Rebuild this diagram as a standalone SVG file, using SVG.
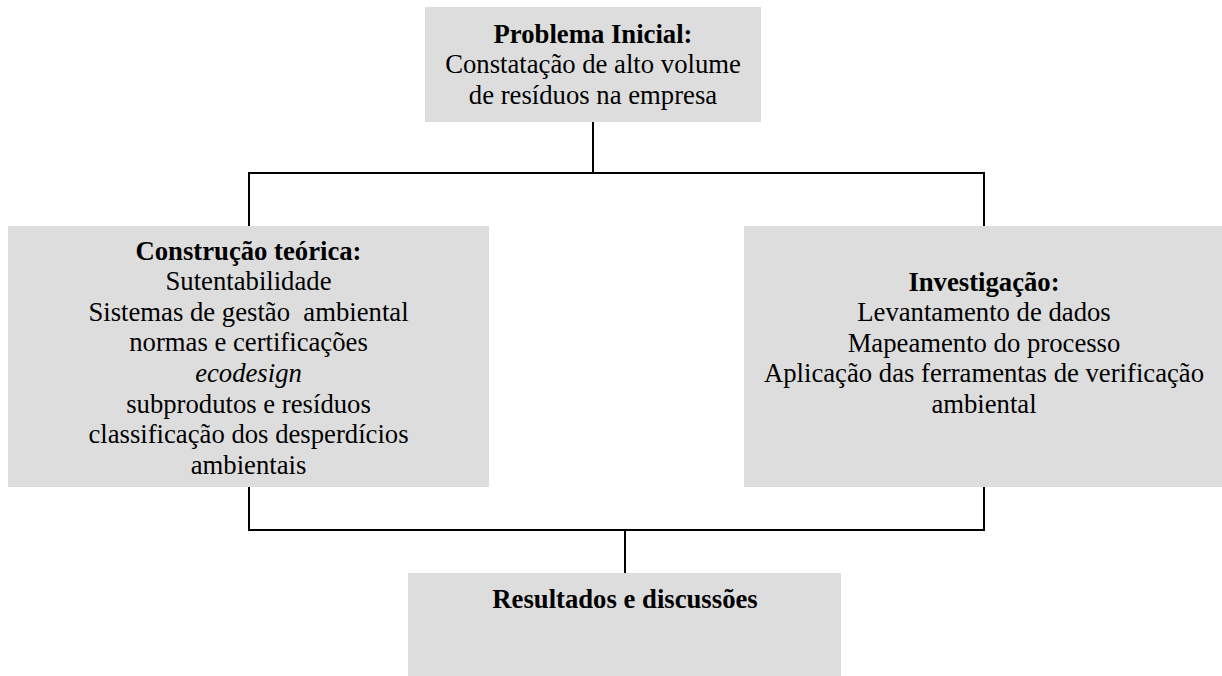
<svg xmlns="http://www.w3.org/2000/svg" width="1222" height="676" viewBox="0 0 1222 676">
  <style>
    .box { fill: #dddddd; stroke: none; }
    .t { font-family: "Liberation Serif", "Times New Roman", serif; font-size: 26.7px; fill: #000; text-anchor: middle; }
    .b { font-weight: bold; }
    .i { font-style: italic; }
    .conn { fill: none; stroke: #000; stroke-width: 2; }
  </style>
  <rect width="1222" height="676" fill="#ffffff"/>
  <g id="connectors">
    <path class="conn" d="M593 122 V173 M249 226 V173 H984 V226"/>
    <path class="conn" d="M249 487 V530 H984 V487 M625 530 V573"/>
  </g>
  <g id="problema">
    <rect class="box" x="425" y="7" width="336" height="115"/>
    <text class="t b" x="593" y="42.5">Problema Inicial:</text>
    <text class="t" x="593" y="73">Constatação de alto volume</text>
    <text class="t" x="593" y="103.5">de resíduos na empresa</text>
  </g>
  <g id="construcao">
    <rect class="box" x="8" y="226" width="481" height="261"/>
    <text class="t b" x="248.5" y="259.5">Construção teórica:</text>
    <text class="t" x="248.5" y="290">Sutentabilidade</text>
    <text class="t" x="248.5" y="320.7" xml:space="preserve">Sistemas de gestão  ambiental</text>
    <text class="t" x="248.5" y="351.3">normas e certificações</text>
    <text class="t i" x="248.5" y="381.9">ecodesign</text>
    <text class="t" x="248.5" y="412.5">subprodutos e resíduos</text>
    <text class="t" x="248.5" y="443.1">classificação dos desperdícios</text>
    <text class="t" x="248.5" y="473.7">ambientais</text>
  </g>
  <g id="investigacao">
    <rect class="box" x="744" y="226" width="478" height="261"/>
    <text class="t b" x="984" y="290.5">Investigação:</text>
    <text class="t" x="984" y="321">Levantamento de dados</text>
    <text class="t" x="984" y="351.6">Mapeamento do processo</text>
    <text class="t" x="984" y="382.2">Aplicação das ferramentas de verificação</text>
    <text class="t" x="984" y="412.8">ambiental</text>
  </g>
  <g id="resultados">
    <rect class="box" x="408" y="573" width="433" height="103"/>
    <text class="t b" x="625" y="608">Resultados e discussões</text>
  </g>
</svg>
